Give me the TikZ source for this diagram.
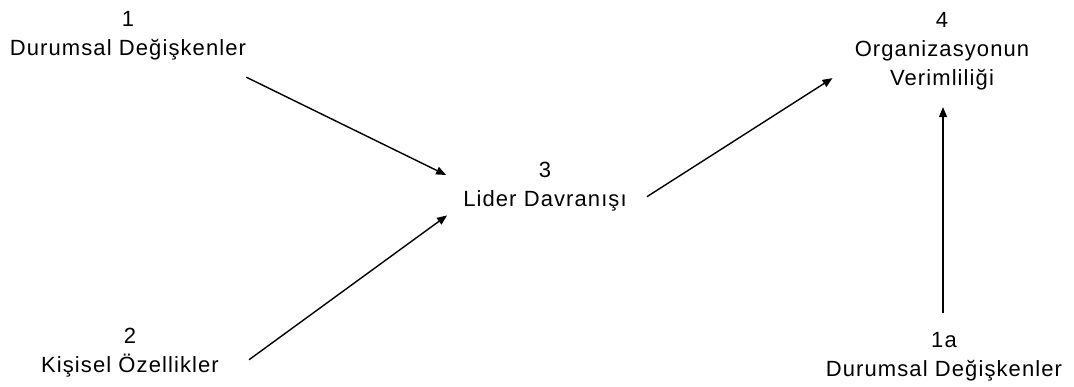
\documentclass[tikz,border=0pt]{standalone}
\usepackage{fontspec}
\setmainfont{Liberation Sans}[LetterSpace=5]
\usetikzlibrary{arrows.meta,calc}
\tikzset{
  lbl/.style={inner sep=0pt, align=center, anchor=north,
    font=\fontsize{22}{29}\selectfont},
  link/.style={line width=1.4pt, -{Triangle[length=10pt,width=8pt]}}
}
\begin{document}
\begin{tikzpicture}[x=1pt,y=-1pt]
  \useasboundingbox (0,0) rectangle (1074,387);
  % factor labels
  \node[lbl] (n1)  at (128,11)  {1\\Durumsal Değişkenler};
  \node[lbl] (n2)  at (130,328) {2\\Kişisel Özellikler};
  \node[lbl] (n3)  at (545,162) {3\\Lider Davranışı};
  \node[lbl] (n4)  at (942,12)  {4\\Organizasyonun\\Verimliliği};
  \node[lbl] (n1a) at (944,332) {1a\\Durumsal Değişkenler};
  % influences
  \draw[link] ($(n1.south east)+(0,17)$) -- ($(n3.north west)+(-17,13)$);
  \draw[link] ($(n2.east)+(30,7)$) -- ($(n3.south west)+(-16,4)$);
  \draw[link] ($(n3.east)+(20,10)$) -- ($(n4.south west)+(-22,-12)$);
  \draw[link] ($(n1a.north)+(-1,-19)$) -- ($(n4.south)+(1,17)$);
\end{tikzpicture}
\end{document}
